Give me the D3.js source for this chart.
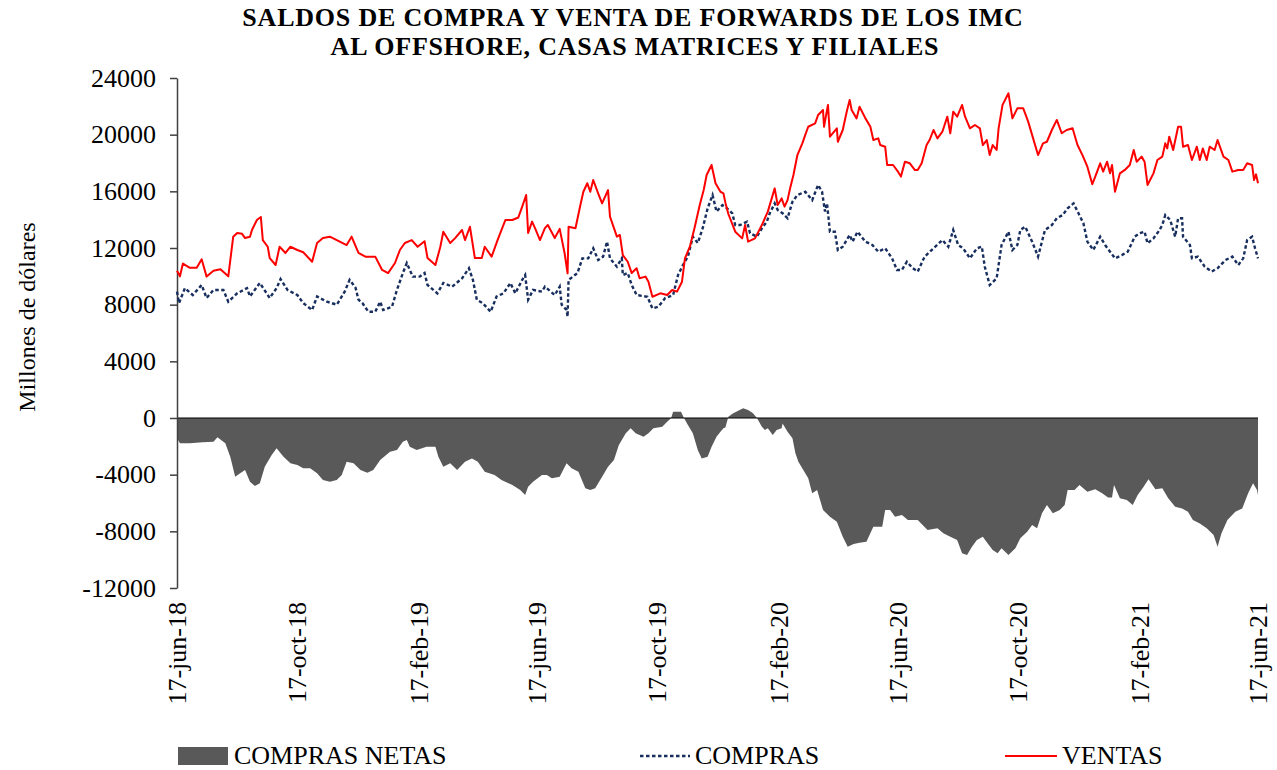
<!DOCTYPE html>
<html>
<head>
<meta charset="utf-8">
<script src="https://cdn.jsdelivr.net/npm/d3@7"></script>
<style>
  body { margin: 0; background: #ffffff; }
  svg { display: block; }
  text { font-family: "Liberation Serif", "Times New Roman", serif; fill: #000; }
</style>
</head>
<body>
<svg id="chart" width="1277" height="770"></svg>
<script>
// Saldos diarios (millones de dólares). Cada serie se guarda como
// días transcurridos desde el 17-jun-18 y el saldo observado ese día.
const fechaInicio = "2018-06-17";
const fechaFin = "2021-06-17";

const fechasEje = ["2018-06-17","2018-10-17","2019-02-17","2019-06-17","2019-10-17",
                   "2020-02-17","2020-06-17","2020-10-17","2021-02-17","2021-06-17"];
const etiquetasEje = ["17-jun-18","17-oct-18","17-feb-19","17-jun-19","17-oct-19",
                      "17-feb-20","17-jun-20","17-oct-20","17-feb-21","17-jun-21"];
const ticksY = [-12000, -8000, -4000, 0, 4000, 8000, 12000, 16000, 20000, 24000];

const nombresSeries = ["COMPRAS NETAS", "COMPRAS", "VENTAS"];
const lineasTitulo = ["SALDOS DE COMPRA Y VENTA DE FORWARDS DE LOS IMC",
                      "AL OFFSHORE, CASAS MATRICES Y FILIALES"];

// VENTAS
const diasVentas = [0,3,6,13,20,25,30,37,44,52,57,61,66,69,74,76,81,85,87,92,94,100,104,110,115,122,128,137,142,148,155,162,172,177,184,191,201,208,214,221,226,231,238,244,251,254,262,267,270,277,282,289,292,297,302,309,312,319,325,333,340,346,350,354,356,360,363,368,373,376,383,388,393,396,397,404,409,412,416,419,422,427,431,437,439,446,449,452,457,461,466,469,475,478,482,490,497,502,507,512,515,520,525,530,534,537,542,546,551,554,556,559,566,573,576,579,586,593,599,606,609,613,616,619,622,625,629,634,637,640,647,650,655,656,660,662,669,670,675,679,682,684,689,692,698,703,706,711,713,718,720,726,731,734,738,743,748,751,755,760,763,767,771,776,781,784,787,791,796,799,804,809,814,817,821,824,827,831,833,837,843,847,852,858,863,868,873,878,882,887,892,897,902,908,913,918,923,928,931,936,939,943,946,948,951,956,961,966,970,973,978,981,984,990,994,999,1002,1004,1006,1010,1015,1018,1020,1025,1029,1034,1037,1040,1044,1047,1052,1055,1061,1066,1070,1076,1081,1085,1090,1092,1094,1096];
const ventas = [10400,10000,10900,10600,10600,11200,9980,10400,10500,10000,12800,13060,13000,12700,12800,13270,13980,14190,12560,12090,11290,10800,12090,11650,12090,11860,11700,11030,12350,12700,12800,12560,12210,12800,11650,11390,11390,10450,10230,10940,11860,12350,12560,12090,12480,11290,10800,12090,13150,12350,12700,13270,12560,13500,11290,11290,12090,11390,12560,13980,13980,14150,14920,15740,13060,13860,13400,12560,13400,13620,12700,13350,11630,10210,13500,13400,15030,15970,16570,15970,16800,15860,15150,16090,14210,12800,12920,11500,11030,10230,10570,9860,9980,9620,8560,8800,8680,9040,8920,9620,11270,12090,13500,15030,16090,17150,17860,16570,15970,15860,15200,14400,13150,12680,13620,12450,12680,13620,14570,16210,15030,15500,14920,15380,16330,17150,18560,19390,19980,20560,20800,21390,21740,20560,22100,19860,20450,19500,20330,21620,22450,21740,21150,21970,21150,20560,19620,19740,19270,19150,17860,17860,17390,17040,18090,17980,17510,17510,17980,19270,19620,20330,19740,20210,21270,20100,21620,21270,22100,21270,20450,20680,20450,19270,19620,18560,19270,18920,20450,22100,22920,21150,21860,21860,20920,19740,18560,19390,19500,20330,21040,20100,20330,20450,19270,18560,17740,16500,17040,17980,17390,18090,17270,17860,15970,17270,17510,17860,18920,18090,18450,18090,16450,17270,18210,18450,19390,19030,19860,18920,20560,20560,19150,19270,18210,19150,18210,19030,18210,19150,18920,19620,18450,18210,17390,17510,17510,17980,17860,16800,17200,16570];

// COMPRAS
const diasCompras = [0,2,8,16,25,30,37,47,52,61,71,74,84,94,101,105,112,122,128,137,142,152,162,170,175,181,184,188,194,201,206,209,218,223,229,233,239,246,251,254,264,270,279,289,296,300,304,310,318,324,331,338,343,350,353,356,361,370,373,383,388,390,395,396,397,406,411,417,422,427,432,436,439,446,451,452,457,461,466,477,482,488,495,503,508,513,518,523,528,533,538,543,547,553,556,563,566,571,578,581,588,593,598,601,606,609,614,619,624,629,637,644,650,654,657,659,662,667,670,675,682,685,690,698,705,711,718,725,730,735,740,746,751,758,767,776,782,787,792,797,804,811,816,819,824,831,836,843,847,852,855,860,867,873,880,887,892,898,903,909,914,919,923,929,936,941,946,951,958,964,971,976,981,984,990,995,999,1002,1007,1012,1015,1019,1020,1027,1029,1035,1042,1049,1055,1063,1070,1076,1081,1085,1090,1093,1096];
const compras = [8920,8110,9170,8680,9390,8470,9040,9040,8210,8800,9170,8580,9530,8470,9170,9810,9040,8680,8110,7620,8580,8210,8000,8920,9750,9200,8350,8110,7500,7500,8210,7620,7860,9040,10230,10940,9980,9980,10230,9390,8800,9530,9270,9860,10570,9750,8350,8110,7500,8580,8800,9530,8800,9750,10090,8350,9040,8920,9270,8680,9270,8000,7620,7150,9750,10230,11270,11270,11980,11150,11390,12450,11270,10680,11270,10090,10230,9390,8680,8560,7740,7860,8470,8680,10090,10800,11390,12800,12350,13400,14800,15740,14570,15030,14900,14450,13620,13620,13860,13040,12800,13390,13860,14450,15150,14680,14450,14100,15270,15740,15970,15380,16450,15970,14570,15150,13150,13150,11860,12090,12920,12450,13150,12450,12210,11740,11980,11270,10450,10450,11030,10570,10330,11390,11980,12560,12090,13270,12210,11980,11270,11980,12090,10680,9390,9860,12210,13150,11860,12210,13270,13500,12450,11390,13270,13620,14100,14330,14800,15150,14450,13740,12450,11860,12800,12210,11740,11270,11500,11740,12800,13040,13150,12330,12680,13150,13620,14330,13980,12800,14100,14100,12800,12210,11270,11390,10680,10330,10570,11150,11390,10800,11270,12560,12800,11980,11270];

// COMPRAS NETAS
const diasNetas = [0,3,13,26,37,41,49,54,59,64,69,74,79,84,89,96,101,108,115,122,128,135,142,148,155,162,167,172,179,186,193,199,206,216,223,229,233,236,243,253,262,265,270,277,284,292,299,305,312,322,329,340,348,353,356,361,370,375,380,388,395,400,407,414,419,424,431,437,443,448,455,460,465,473,478,483,492,497,501,503,511,514,518,523,528,532,538,542,547,551,554,556,559,564,574,579,584,588,593,596,599,604,608,613,614,619,624,627,630,635,640,644,649,652,655,662,669,675,680,686,692,699,706,715,718,723,728,735,741,751,756,761,771,777,784,791,796,801,806,811,817,822,827,832,836,843,850,855,862,867,872,877,882,888,895,900,903,910,915,923,931,938,944,948,950,956,963,969,974,979,985,992,999,1005,1012,1019,1025,1030,1037,1044,1051,1055,1059,1065,1073,1080,1086,1091,1095,1096];
const netas = [-1430,-1790,-1790,-1720,-1670,-1360,-1790,-2730,-4140,-3900,-3670,-4500,-4800,-4610,-3440,-2610,-2140,-2730,-3200,-3320,-3550,-3550,-3900,-4380,-4500,-4380,-4020,-3080,-3200,-3670,-3860,-3670,-2970,-2380,-2260,-1670,-1550,-2030,-2260,-2030,-2030,-2730,-3440,-3200,-3670,-3080,-2850,-3080,-3790,-4020,-4380,-4730,-5080,-5440,-4850,-4500,-4020,-4020,-4260,-4140,-3200,-3550,-3790,-4960,-5080,-4960,-4140,-3440,-2970,-1910,-1080,-730,-1080,-1320,-1080,-730,-610,-260,0,440,440,0,-490,-1080,-2260,-2850,-2730,-2030,-1320,-970,-730,-670,90,330,680,570,330,0,-610,-850,-730,-1200,-850,-730,-380,-970,-1430,-2490,-3080,-3670,-4260,-5320,-5080,-5790,-6490,-6970,-7320,-8380,-9080,-8890,-8800,-8730,-7670,-7670,-6490,-6490,-6970,-6850,-7200,-7200,-7550,-7910,-7790,-8140,-8380,-8610,-9550,-9670,-9080,-8610,-8380,-8850,-9320,-9550,-9200,-9670,-9200,-8490,-8030,-7550,-7790,-6730,-6140,-6730,-6490,-6140,-5080,-5080,-4730,-5200,-5030,-5320,-5620,-5620,-4730,-5670,-5790,-6140,-5440,-4960,-4330,-5030,-4960,-5670,-6260,-6380,-6610,-7200,-7440,-7790,-8260,-9080,-8140,-7200,-6610,-6380,-5320,-4610,-5080,-5440];

const colores = { netas: "#595959", compras: "#172E5E", ventas: "#FF0000" };

const svg = d3.select("#chart");
const margen = { left: 177, right: 1258, top: 78, bottom: 588 };

const t0 = d3.utcParse("%Y-%m-%d")(fechaInicio);
const t1 = d3.utcParse("%Y-%m-%d")(fechaFin);
const aFecha = d => d3.utcDay.offset(t0, d);

const x = d3.scaleUtc().domain([t0, t1]).range([margen.left, margen.right]);
const y = d3.scaleLinear().domain([-12000, 24000]).range([margen.bottom, margen.top]);

const serie = (dias, valores) => dias.map((d, i) => ({ f: aFecha(d), v: valores[i] }));
const datosNetas = serie(diasNetas, netas);
const datosCompras = serie(diasCompras, compras);
const datosVentas = serie(diasVentas, ventas);

// Área de compras netas
svg.append("path")
  .datum(datosNetas)
  .attr("fill", colores.netas)
  .attr("d", d3.area().x(d => x(d.f)).y0(y(0)).y1(d => y(d.v)));

// Línea del cero
svg.append("line")
  .attr("x1", x(t0)).attr("x2", x(t1))
  .attr("y1", y(0)).attr("y2", y(0))
  .attr("stroke", "#000").attr("stroke-width", 1.2);

// Eje vertical
const ejeY = svg.append("g")
  .attr("transform", `translate(${margen.left},0)`)
  .call(d3.axisLeft(y).tickValues(ticksY).tickSize(7).tickSizeOuter(0).tickPadding(14).tickFormat(v => String(v)));
ejeY.select(".domain").attr("stroke", "#404040").attr("stroke-width", 1.5);
ejeY.selectAll(".tick line").attr("stroke", "#404040").attr("stroke-width", 1.5);
ejeY.selectAll(".tick text")
  .style("font-family", "'Liberation Serif', 'Times New Roman', serif")
  .style("font-size", "26px").attr("fill", "#000");

// Líneas de compras y ventas
const linea = d3.line().x(d => x(d.f)).y(d => y(d.v));
svg.append("path")
  .datum(datosCompras)
  .attr("fill", "none")
  .attr("stroke", colores.compras)
  .attr("stroke-width", 2.4)
  .attr("stroke-dasharray", "3.5,2.5")
  .attr("d", linea);
svg.append("path")
  .datum(datosVentas)
  .attr("fill", "none")
  .attr("stroke", colores.ventas)
  .attr("stroke-width", 2)
  .attr("stroke-linejoin", "round")
  .attr("d", linea);

// Etiquetas del eje de fechas
const fechasTick = fechasEje.map(d3.utcParse("%Y-%m-%d"));
svg.append("g").selectAll("text")
  .data(fechasTick)
  .join("text")
  .attr("transform", d => `translate(${x(d)},602) rotate(-90)`)
  .attr("text-anchor", "end")
  .attr("dy", "0.35em")
  .style("font-size", "26px")
  .text((d, i) => etiquetasEje[i]);

// Título en dos líneas
svg.append("g").selectAll("text")
  .data(lineasTitulo)
  .join("text")
  .attr("x", (d, i) => i === 0 ? 633 : 635)
  .attr("y", (d, i) => 25.5 + i * 29)
  .attr("text-anchor", "middle")
  .style("font-size", "26px")
  .style("font-weight", "bold")
  .style("letter-spacing", "0.8px")
  .text(d => d);

// Título del eje vertical
svg.append("text")
  .attr("transform", "translate(27,317) rotate(-90)")
  .attr("text-anchor", "middle")
  .attr("dy", "0.35em")
  .style("font-size", "24px")
  .text("Millones de dólares");

// Leyenda
const ley = svg.append("g");
const yLey = 755;
ley.append("rect").attr("x", 178).attr("y", yLey - 8).attr("width", 50).attr("height", 18)
  .attr("fill", colores.netas);
ley.append("text").attr("x", 234).attr("y", yLey).attr("dy", "0.35em")
  .style("font-size", "26px").text(nombresSeries[0]);
ley.append("line").attr("x1", 640).attr("x2", 690).attr("y1", yLey + 1).attr("y2", yLey + 1)
  .attr("stroke", colores.compras).attr("stroke-width", 2.4).attr("stroke-dasharray", "3.5,2.5");
ley.append("text").attr("x", 695).attr("y", yLey).attr("dy", "0.35em")
  .style("font-size", "26px").text(nombresSeries[1]);
ley.append("line").attr("x1", 1005).attr("x2", 1057).attr("y1", yLey + 1).attr("y2", yLey + 1)
  .attr("stroke", colores.ventas).attr("stroke-width", 2);
ley.append("text").attr("x", 1062).attr("y", yLey).attr("dy", "0.35em")
  .style("font-size", "26px").text(nombresSeries[2]);
</script>
</body>
</html>
